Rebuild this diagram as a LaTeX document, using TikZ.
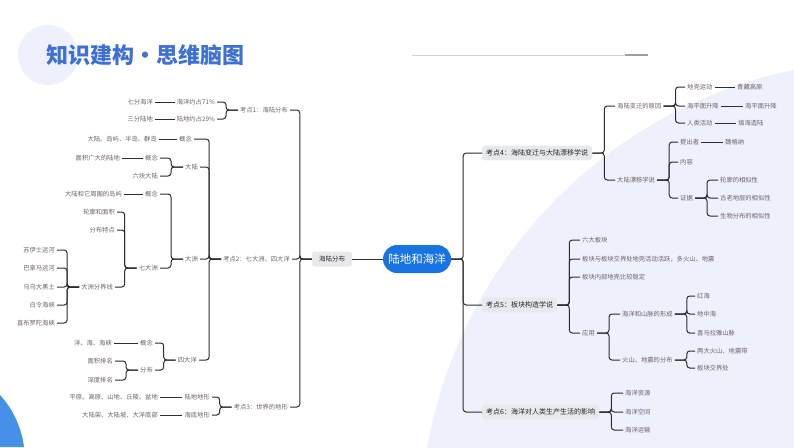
\documentclass[tikz,border=0pt]{standalone}
\usepackage{fontspec}
\setmainfont{Noto Sans CJK SC}
\usepackage{xcolor}
\definecolor{linegray}{RGB}{45,45,48}
\definecolor{leafgray}{RGB}{112,98,104}
\definecolor{lavender}{RGB}{238,240,251}
\definecolor{rootblue}{RGB}{24,116,228}
\definecolor{boxgray}{RGB}{232,233,237}
\definecolor{titleblue}{RGB}{62,112,214}
\tikzset{
  leaf/.style={inner sep=2pt, font=\fontsize{6.3}{7}\selectfont, text=leafgray},
  kbox/.style={fill=boxgray, rounded corners=3pt, inner xsep=4pt, inner ysep=4pt,
    font=\fontsize{7}{8}\selectfont, text=black!85},
  rootnode/.style={fill=rootblue, rounded corners=14pt, minimum width=68pt,
    minimum height=28pt, font=\fontsize{11.5}{12}\selectfont, text=white},
  link/.style={draw=linegray, line width=1pt, rounded corners=3pt},
}

\begin{document}
\begin{tikzpicture}[x=1pt,y=-1pt]
\useasboundingbox (0,0) rectangle (794,447);
\fill[white] (0,0) rectangle (794,447);
% background shapes
\begin{scope}
\clip (0,0) rectangle (794,447);
\fill[lavender] (890,530) circle (470);
\fill[lavender] (48,55) circle (30);
\fill[rootblue!80] (0,395) .. controls (14,410) and (22,430) .. (24,447) -- (0,447) -- cycle;
\end{scope}
\draw[gray!35, line width=1pt] (412,55) -- (625,55);
\draw[gray!75, line width=1.8pt] (625,55) -- (648,55);
\node[anchor=west, font=\fontsize{22}{24}\selectfont\bfseries, text=titleblue] (title) at (43,55) {知识建构・思维脑图};

% centre
\node[rootnode] (root) at (417,259) {陆地和海洋};
\node[kbox, font=\fontsize{6.5}{7}\selectfont, inner xsep=7pt, inner ysep=4.5pt] (hl) at (332,259) {海陆分布};
\draw[link] (hl.east) -- (root.west);

% left: kaodian 1
\node[leaf, anchor=east] (k1) at (290,110) {考点1：海陆分布};
\node[leaf, anchor=east] (hy71) at (217,102) {海洋约占71\%};
\node[leaf, anchor=east] (ld29) at (217,119) {陆地约占29\%};
\node[leaf, anchor=east] (qfhy) at (155,102) {七分海洋};
\node[leaf, anchor=east] (sfld) at (155,119) {三分陆地};

% left: kaodian 2
\node[leaf, anchor=east] (k2) at (292,259) {考点2：七大洲、四大洋};
\node[leaf, anchor=east] (gn1) at (194,139) {概念};
\node[leaf, anchor=east] (dgbq) at (159,139) {大陆、岛屿、半岛、群岛};
\node[leaf, anchor=east] (dl) at (200,167) {大陆};
\node[leaf, anchor=east] (gn2) at (160,158) {概念};
\node[leaf, anchor=east] (mjgd) at (122,158) {面积广大的陆地};
\node[leaf, anchor=east] (lkdl) at (160,176) {六块大陆};
\node[leaf, anchor=east] (dz) at (200,259) {大洲};
\node[leaf, anchor=east] (gn3) at (160,194) {概念};
\node[leaf, anchor=east] (dlzb) at (124,194) {大陆和它周围的岛屿};
\node[leaf, anchor=east] (qdz) at (160,268) {七大洲};
\node[leaf, anchor=east] (lkmj) at (117,212) {轮廓和面积};
\node[leaf, anchor=east] (fbtd) at (117,230) {分布特点};
\node[leaf, anchor=east] (fjx) at (115,287) {大洲分界线};
\node[leaf, anchor=east] (syz) at (57,250) {苏伊士运河};
\node[leaf, anchor=east] (bnm) at (57,268) {巴拿马运河};
\node[leaf, anchor=east] (wwdh) at (57,287) {乌乌大黑土};
\node[leaf, anchor=east] (blhx) at (57,305) {白令海峡};
\node[leaf, anchor=east] (zblt) at (57,323) {直布罗陀海峡};
\node[leaf, anchor=east] (sdy) at (199,360) {四大洋};
\node[leaf, anchor=east] (gn4) at (155,343) {概念};
\node[leaf, anchor=east] (yhhx) at (114,343) {洋、海、海峡};
\node[leaf, anchor=east] (fb) at (155,370) {分布};
\node[leaf, anchor=east] (mjpm) at (115,361) {面积排名};
\node[leaf, anchor=east] (sdpm) at (115,380) {深度排名};

% left: kaodian 3
\node[leaf, anchor=east] (k3) at (290,407) {考点3：世界的地形};
\node[leaf, anchor=east] (ldxd) at (212,397) {陆地地形};
\node[leaf, anchor=east] (hdxd) at (212,415) {海底地形};
\node[leaf, anchor=east] (pygs) at (160,397) {平原、高原、山地、丘陵、盆地};
\node[leaf, anchor=east] (dljd) at (160,415) {大陆架、大陆坡、大洋底部};

% right: kaodian 4
\node[kbox, anchor=west] (k4) at (482,153) {考点4：海陆变迁与大陆漂移学说};
\node[leaf, anchor=west] (yy) at (615,106) {海陆变迁的原因};
\node[leaf, anchor=west] (dqyd) at (685,87) {地壳运动};
\node[leaf, anchor=west] (hpm) at (685,106) {海平面升降};
\node[leaf, anchor=west] (rlhd) at (685,123) {人类活动};
\node[leaf, anchor=west] (qzgy) at (735,87) {青藏高原};
\node[leaf, anchor=west] (hpm2) at (743,106) {海平面升降};
\node[leaf, anchor=west] (thzl) at (736,123) {填海造陆};
\node[leaf, anchor=west] (pyxs) at (615,180) {大陆漂移学说};
\node[leaf, anchor=west] (tcz) at (678,142) {提出者};
\node[leaf, anchor=west] (wgn) at (723,142) {魏格纳};
\node[leaf, anchor=west] (nr) at (678,162) {内容};
\node[leaf, anchor=west] (zj) at (678,198) {证据};
\node[leaf, anchor=west] (lkxs) at (718,180) {轮廓的相似性};
\node[leaf, anchor=west] (dcxs) at (718,198) {古老地层的相似性};
\node[leaf, anchor=west] (swxs) at (718,216) {生物分布的相似性};

% right: kaodian 5
\node[kbox, anchor=west] (k5) at (482,305) {考点5：板块构造学说};
\node[leaf, anchor=west] (ldbk) at (580,240) {六大板块};
\node[leaf, anchor=west] (jjc) at (580,259) {板块与板块交界处地壳活动活跃，多火山、地震};
\node[leaf, anchor=west] (nbwd) at (580,277) {板块内部地壳比较稳定};
\node[leaf, anchor=west] (yy2) at (580,333) {应用};
\node[leaf, anchor=west] (hsxc) at (620,314) {海洋和山脉的形成};
\node[leaf, anchor=west] (hsfb) at (620,360) {火山、地震的分布};
\node[leaf, anchor=west] (hh) at (695,296) {红海};
\node[leaf, anchor=west] (dzh) at (695,314) {地中海};
\node[leaf, anchor=west] (xmly) at (695,333) {喜马拉雅山脉};
\node[leaf, anchor=west] (ldh) at (695,351) {两大火山、地震带};
\node[leaf, anchor=west] (jjc2) at (695,368) {板块交界处};

% right: kaodian 6
\node[kbox, anchor=west] (k6) at (482,412) {考点6：海洋对人类生产生活的影响};
\node[leaf, anchor=west] (hyzy) at (623,393) {海洋资源};
\node[leaf, anchor=west] (hykj) at (623,412) {海洋空间};
\node[leaf, anchor=west] (hyys) at (623,430) {海洋运输};

% left brackets
\foreach \p/\c in {hl/k1, hl/k2, hl/k3, k1/hy71, k1/ld29, k2/gn1, k2/dl, k2/dz, k2/sdy,
    dl/gn2, dl/lkdl, dz/gn3, dz/qdz, qdz/lkmj, qdz/fbtd, qdz/fjx,
    fjx/syz, fjx/bnm, fjx/wwdh, fjx/blhx, fjx/zblt, sdy/gn4, sdy/fb,
    fb/mjpm, fb/sdpm, k3/ldxd, k3/hdxd}
  \draw[link] (\p.west) -- ++(-12,0) |- (\c.east);
\foreach \p/\c in {hy71/qfhy, ld29/sfld, gn1/dgbq, gn2/mjgd, gn3/dlzb, gn4/yhhx,
    ldxd/pygs, hdxd/dljd}
  \draw[link] (\p.west) -- (\c.east);

% right brackets
\foreach \p/\c in {root/k4, root/k5, root/k6, k4/yy, k4/pyxs, yy/dqyd, yy/hpm, yy/rlhd,
    pyxs/tcz, pyxs/nr, pyxs/zj, zj/lkxs, zj/dcxs, zj/swxs,
    k5/ldbk, k5/jjc, k5/nbwd, k5/yy2, yy2/hsxc, yy2/hsfb,
    hsxc/hh, hsxc/dzh, hsxc/xmly, hsfb/ldh, hsfb/jjc2, k6/hyzy, k6/hykj, k6/hyys}
  \draw[link] (\p.east) -- ++(12,0) |- (\c.west);
\foreach \p/\c in {dqyd/qzgy, hpm/hpm2, rlhd/thzl, tcz/wgn}
  \draw[link] (\p.east) -- (\c.west);
\end{tikzpicture}
\end{document}
